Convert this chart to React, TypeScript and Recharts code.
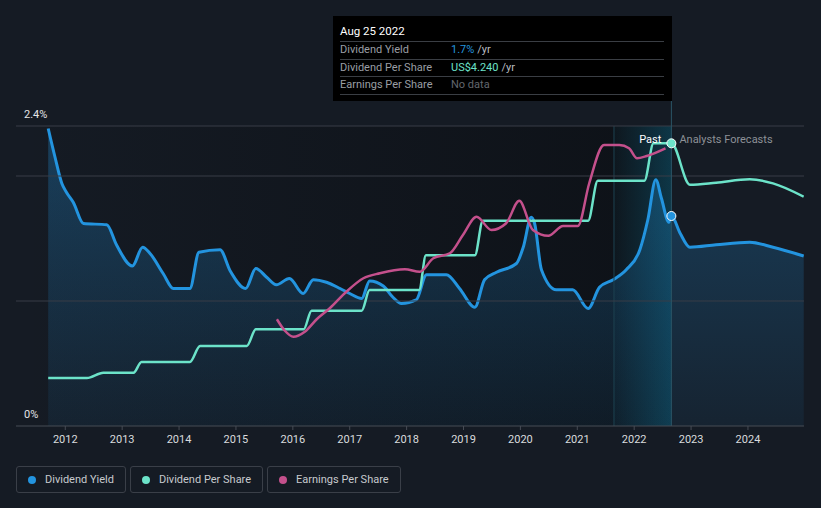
import React from 'react';
import {
  ComposedChart,
  Area,
  Line,
  XAxis,
  YAxis,
  ReferenceArea,
  ReferenceLine,
  ReferenceDot,
} from 'recharts';

// dividend yield (%)
const yieldYears = [
  2011.7, 2011.82, 2011.94, 2012.02, 2012.14, 2012.32, 2012.73, 2012.9, 2013.18, 2013.36,
  2013.49, 2013.72, 2013.9, 2014.19, 2014.35, 2014.72, 2014.9, 2015.17, 2015.35, 2015.54,
  2015.71, 2015.94, 2016.18, 2016.36, 2016.59, 2016.83, 2017.0, 2017.21, 2017.35, 2017.59,
  2017.76, 2017.91, 2018.17, 2018.35, 2018.7, 2018.93, 2019.2, 2019.37, 2019.58, 2019.93,
  2020.05, 2020.19, 2020.25, 2020.37, 2020.63, 2020.92, 2021.19, 2021.39, 2021.63, 2021.86,
  2022.1, 2022.24, 2022.38, 2022.48, 2022.61, 2022.654, 2022.81, 2022.98, 2023.44, 2024.03,
  2024.44, 2024.98,
];
const yieldValues = [
  2.38, 2.15, 1.94, 1.87, 1.79, 1.62, 1.61, 1.45, 1.28, 1.43,
  1.38, 1.22, 1.1, 1.1, 1.39, 1.41, 1.24, 1.1, 1.26, 1.19,
  1.13, 1.18, 1.06, 1.17, 1.15, 1.1, 1.06, 1.02, 1.16, 1.12,
  1.03, 0.98, 1.01, 1.21, 1.21, 1.1, 0.95, 1.17, 1.23, 1.3,
  1.43, 1.67, 1.62, 1.25, 1.09, 1.09, 0.94, 1.11, 1.17, 1.25,
  1.41, 1.65, 1.97, 1.82, 1.63, 1.68, 1.54, 1.43, 1.45, 1.47,
  1.43, 1.36,
];

// dividend per share (US$)
const dpsYears = [
  2011.7, 2012.38, 2012.67, 2013.2, 2013.34, 2014.19, 2014.37, 2015.19, 2015.35, 2016.19,
  2016.33, 2017.21, 2017.35, 2018.22, 2018.34, 2019.2, 2019.34, 2021.19, 2021.36, 2022.18,
  2022.34, 2022.654, 2022.98, 2023.44, 2024.03, 2024.44, 2024.98,
];
const dpsValues = [
  0.72, 0.72, 0.8, 0.8, 0.96, 0.96, 1.2, 1.2, 1.45, 1.45,
  1.73, 1.73, 2.04, 2.04, 2.56, 2.56, 3.08, 3.08, 3.68, 3.68,
  4.24, 4.24, 3.62, 3.65, 3.7, 3.64, 3.44,
];

// earnings per share
const epsYears = [
  2015.72, 2015.86, 2016.01, 2016.21, 2016.42, 2016.65, 2016.94, 2017.24, 2017.53, 2017.97,
  2018.23, 2018.47, 2018.76, 2018.99, 2019.23, 2019.49, 2019.75, 2019.98, 2020.22, 2020.49,
  2020.75, 2021.01, 2021.21, 2021.47, 2021.74, 2021.91, 2022.05, 2022.22, 2022.55,
];
const epsValues = [
  4.27, 3.81, 3.57, 3.77, 4.27, 4.71, 5.37, 5.91, 6.11, 6.27,
  6.17, 6.71, 6.91, 7.64, 8.37, 7.84, 8.11, 9.01, 7.84, 7.61,
  8.0, 8.0, 9.71, 11.24, 11.24, 11.11, 10.71, 10.8, 11.11,
];

const yearTicks = [2012, 2013, 2014, 2015, 2016, 2017, 2018, 2019, 2020, 2021, 2022, 2023, 2024];
const yieldTicks = [0, 2.4];
const gridValues = [1, 2, 2.4];

const seriesNames = ['Dividend Yield', 'Dividend Per Share', 'Earnings Per Share'];
const seriesColors = ['#2394df', '#6ce3c9', '#c4508c'];

const cursorYear = 2022.654;
const bandStart = 2021.645;
const tooltipDate = 'Aug 25 2022';
const tooltipRows = [
  { label: 'Dividend Yield', value: '1.7%', unit: '/yr', color: '#2394df' },
  { label: 'Dividend Per Share', value: 'US$4.240', unit: '/yr', color: '#6ce3c9' },
  { label: 'Earnings Per Share', value: 'No data', unit: '', color: '#62676e' },
];

const rowsByX = new Map<number, any>();
const put = (xs: number[], vs: number[], key: string) => {
  xs.forEach((x, i) => {
    const row = rowsByX.get(x) || { x };
    row[key] = vs[i];
    rowsByX.set(x, row);
  });
};
put(yieldYears, yieldValues, 'yield');
put(dpsYears, dpsValues, 'dps');
put(epsYears, epsValues, 'eps');
const chartData = Array.from(rowsByX.values()).sort((a, b) => a.x - b.x);

const renderYTick = (props: any) => (
  <text key={props.index} x={24} y={props.y - 8} fill="#e4e5e7" fontSize={11}>
    {props.payload.value + '%'}
  </text>
);

const App = () => {
  return (
    <div
      style={{
        position: 'fixed',
        left: 0,
        top: 0,
        width: 821,
        height: 508,
        background: '#151b24',
        overflow: 'hidden',
        fontFamily: 'Roboto, sans-serif',
      }}
    >
      <ComposedChart
        width={821}
        height={508}
        data={chartData}
        margin={{ top: 126, right: 17, bottom: 52, left: 16 }}
      >
        <defs>
          <linearGradient id="pastShade" x1="0" y1="0" x2="1" y2="0">
            <stop offset="0%" stopColor="#06080b" stopOpacity={0} />
            <stop offset="100%" stopColor="#06080b" stopOpacity={0.5} />
          </linearGradient>
          <linearGradient id="bandShade" x1="0" y1="0" x2="1" y2="0">
            <stop offset="0%" stopColor="#0d6f8f" stopOpacity={0.05} />
            <stop offset="100%" stopColor="#0d6f8f" stopOpacity={0.4} />
          </linearGradient>
          <linearGradient id="yieldFill" x1="0" y1="0" x2="0" y2="1">
            <stop offset="0%" stopColor="#2394df" stopOpacity={0.3} />
            <stop offset="100%" stopColor="#2394df" stopOpacity={0.07} />
          </linearGradient>
        </defs>
        <XAxis
          dataKey="x"
          type="number"
          domain={[2011.134, 2024.985]}
          allowDataOverflow
          ticks={yearTicks}
          height={30}
          tickSize={4}
          tickMargin={5}
          tick={{ fill: '#d9dbde', fontSize: 11 }}
          axisLine={{ stroke: '#474c55' }}
          tickLine={{ stroke: '#474c55' }}
        />
        <YAxis
          yAxisId="y"
          domain={[0, 2.4]}
          ticks={yieldTicks}
          mirror
          width={40}
          axisLine={false}
          tickLine={false}
          interval={0}
          tick={renderYTick}
        />
        <YAxis yAxisId="dps" hide domain={[0, 4.5]} />
        <YAxis yAxisId="eps" hide domain={[0, 12]} />

        <ReferenceArea
          yAxisId="y"
          x1={2011.134}
          x2={cursorYear}
          y1={0}
          y2={2.4}
          fill="url(#pastShade)"
          fillOpacity={1}
          stroke="none"
        />
        <ReferenceArea
          yAxisId="y"
          x1={bandStart}
          x2={cursorYear}
          y1={0}
          y2={2.4}
          fill="url(#bandShade)"
          fillOpacity={1}
          stroke="none"
        />
        <ReferenceLine yAxisId="y" x={bandStart} stroke="#1d4352" strokeWidth={1} />
        {gridValues.map((v) => (
          <ReferenceLine key={v} yAxisId="y" y={v} stroke="#383d46" strokeWidth={1} />
        ))}
        <ReferenceLine
          yAxisId="y"
          ifOverflow="visible"
          segment={[
            { x: cursorYear, y: 2.6 },
            { x: cursorYear, y: 0 },
          ]}
          stroke="#2b5566"
          strokeWidth={1}
        />

        <Area
          yAxisId="y"
          dataKey="yield"
          type="monotone"
          stroke={seriesColors[0]}
          strokeWidth={3}
          fill="url(#yieldFill)"
          fillOpacity={1}
          connectNulls
          dot={false}
          activeDot={false}
          isAnimationActive={false}
        />
        <Line
          yAxisId="dps"
          dataKey="dps"
          type="monotone"
          stroke={seriesColors[1]}
          strokeWidth={2.5}
          connectNulls
          dot={false}
          activeDot={false}
          isAnimationActive={false}
        />
        <Line
          yAxisId="eps"
          dataKey="eps"
          type="monotone"
          stroke={seriesColors[2]}
          strokeWidth={2.5}
          connectNulls
          dot={false}
          activeDot={false}
          isAnimationActive={false}
        />

        <ReferenceDot
          yAxisId="y"
          x={cursorYear}
          y={2.3}
          ifOverflow="visible"
          shape={(p: any) => (
            <g fontSize={11}>
              <text x={p.cx - 10} y={p.cy + 4} textAnchor="end" fill="#ffffff">
                Past
              </text>
              <text x={p.cx + 8} y={p.cy + 4} textAnchor="start" fill="#8d9197">
                Analysts Forecasts
              </text>
            </g>
          )}
        />
        <ReferenceDot
          yAxisId="y"
          x={cursorYear}
          y={1.68}
          r={4.5}
          fill={seriesColors[0]}
          stroke="#ffffff"
          strokeWidth={1}
        />
        <ReferenceDot
          yAxisId="dps"
          x={cursorYear}
          y={4.24}
          r={4.5}
          fill={seriesColors[1]}
          stroke="#ffffff"
          strokeWidth={1}
        />
      </ComposedChart>

      <div
        style={{
          position: 'absolute',
          left: 333,
          top: 16,
          width: 339,
          height: 85,
          background: '#000000',
          boxSizing: 'border-box',
          padding: '7px 8px 0 7px',
          fontSize: 11,
        }}
      >
        <div
          style={{
            color: '#ffffff',
            fontSize: 11.5,
            height: 18,
            lineHeight: '16px',
            borderBottom: '1px solid #3a3e44',
          }}
        >
          {tooltipDate}
        </div>
        {tooltipRows.map((r) => (
          <div
            key={r.label}
            style={{
              display: 'flex',
              height: 17.5,
              boxSizing: 'border-box',
              lineHeight: '16.5px',
              borderBottom: '1px solid #3a3e44',
            }}
          >
            <span style={{ width: 111, color: '#9a9ea4' }}>{r.label}</span>
            <span style={{ color: r.color }}>{r.value}</span>
            <span style={{ color: '#b9bcc1', marginLeft: 3 }}>{r.unit}</span>
          </div>
        ))}
      </div>

      <div style={{ position: 'absolute', left: 16, top: 466, display: 'flex', gap: 4 }}>
        {seriesNames.map((name, i) => (
          <div
            key={name}
            style={{
              display: 'flex',
              alignItems: 'center',
              height: 27,
              boxSizing: 'border-box',
              padding: '0 11px',
              border: '1px solid #3a3f48',
              borderRadius: 3,
              fontSize: 11,
              color: '#c7cace',
            }}
          >
            <span
              style={{
                width: 8,
                height: 8,
                borderRadius: 4,
                background: seriesColors[i],
                marginRight: 9,
              }}
            />
            {name}
          </div>
        ))}
      </div>
    </div>
  );
};

export default App;
